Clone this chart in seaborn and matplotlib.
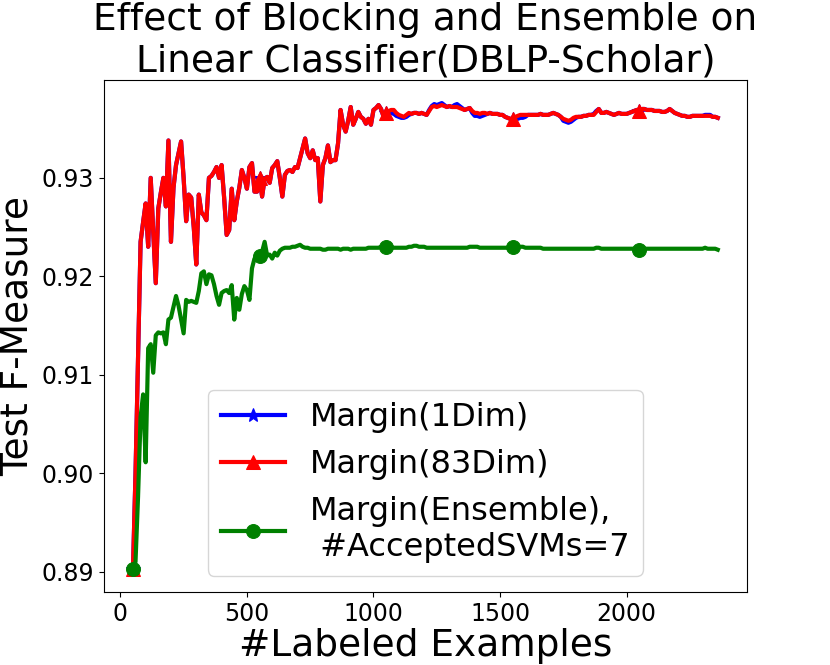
import numpy as np
import matplotlib
matplotlib.use("Agg")
import matplotlib.pyplot as plt
from matplotlib.ticker import FormatStrFormatter
import seaborn as sns

# number of labeled examples, one point every 10 examples
labeledExamples = list(range(50, 2361, 10))

margin83Dim = [
    0.8903, 0.9000, 0.9120, 0.9235, 0.9255, 0.9274, 0.9230, 0.9300, 0.9245, 0.9193,
    0.9269, 0.9285, 0.9300, 0.9271, 0.9338, 0.9235, 0.9290, 0.9313, 0.9325, 0.9337,
    0.9300, 0.9256, 0.9283, 0.9280, 0.9250, 0.9212, 0.9283, 0.9265, 0.9262, 0.9257,
    0.9300, 0.9302, 0.9306, 0.9311, 0.9300, 0.9313, 0.9280, 0.9242, 0.9247, 0.9289,
    0.9257, 0.9276, 0.9290, 0.9308, 0.9300, 0.9289, 0.9311, 0.9315, 0.9286, 0.9286,
    0.9300, 0.9281, 0.9299, 0.9301, 0.9295, 0.9310, 0.9313, 0.9317, 0.9300, 0.9281,
    0.9303, 0.9307, 0.9308, 0.9306, 0.9311, 0.9310, 0.9320, 0.9330, 0.9340, 0.9325,
    0.9320, 0.9328, 0.9318, 0.9320, 0.9276, 0.9313, 0.9320, 0.9333, 0.9316, 0.9318,
    0.9318, 0.9335, 0.9369, 0.9354, 0.9347, 0.9358, 0.9372, 0.9354, 0.9360, 0.9367,
    0.9362, 0.9360, 0.9355, 0.9360, 0.9354, 0.9369, 0.9371, 0.9374, 0.9370, 0.9362,
    0.9366, 0.9368, 0.9369, 0.9369, 0.9366, 0.9364, 0.9363, 0.9362, 0.9364, 0.9366,
    0.9365, 0.9366, 0.9366, 0.9365, 0.9366, 0.9365, 0.9364, 0.9368, 0.9372, 0.9373,
    0.9372, 0.9373, 0.9374, 0.9373, 0.9372, 0.9373, 0.9372, 0.9372, 0.9372, 0.9371,
    0.9370, 0.9369, 0.9370, 0.9371, 0.9368, 0.9366, 0.9366, 0.9365, 0.9366, 0.9366,
    0.9365, 0.9366, 0.9365, 0.9365, 0.9365, 0.9364, 0.9364, 0.9362, 0.9361, 0.9360,
    0.9360, 0.9362, 0.9363, 0.9364, 0.9364, 0.9364, 0.9364, 0.9364, 0.9364, 0.9364,
    0.9364, 0.9365, 0.9364, 0.9364, 0.9364, 0.9365, 0.9366, 0.9365, 0.9364, 0.9362,
    0.9360, 0.9359, 0.9358, 0.9359, 0.9361, 0.9362, 0.9362, 0.9362, 0.9363, 0.9363,
    0.9364, 0.9364, 0.9364, 0.9367, 0.9370, 0.9366, 0.9366, 0.9367, 0.9366, 0.9365,
    0.9364, 0.9365, 0.9366, 0.9365, 0.9365, 0.9365, 0.9366, 0.9367, 0.9368, 0.9369,
    0.9368, 0.9370, 0.9370, 0.9369, 0.9369, 0.9369, 0.9368, 0.9368, 0.9368, 0.9367,
    0.9367, 0.9368, 0.9370, 0.9368, 0.9366, 0.9365, 0.9364, 0.9363, 0.9363, 0.9362,
    0.9362, 0.9363, 0.9363, 0.9363, 0.9363, 0.9363, 0.9363, 0.9363, 0.9363, 0.9362,
    0.9362, 0.9361,
]

margin1Dim = [
    0.8903, 0.9000, 0.9120, 0.9235, 0.9255, 0.9274, 0.9230, 0.9300, 0.9245, 0.9193,
    0.9269, 0.9285, 0.9300, 0.9271, 0.9338, 0.9235, 0.9290, 0.9313, 0.9325, 0.9337,
    0.9300, 0.9256, 0.9283, 0.9280, 0.9250, 0.9212, 0.9283, 0.9265, 0.9262, 0.9257,
    0.9300, 0.9302, 0.9306, 0.9311, 0.9300, 0.9313, 0.9280, 0.9242, 0.9247, 0.9289,
    0.9257, 0.9276, 0.9290, 0.9308, 0.9300, 0.9289, 0.9311, 0.9315, 0.9286, 0.9286,
    0.9300, 0.9281, 0.9299, 0.9301, 0.9295, 0.9310, 0.9313, 0.9317, 0.9300, 0.9281,
    0.9303, 0.9307, 0.9308, 0.9306, 0.9311, 0.9310, 0.9320, 0.9330, 0.9340, 0.9325,
    0.9320, 0.9328, 0.9318, 0.9320, 0.9276, 0.9313, 0.9320, 0.9333, 0.9316, 0.9318,
    0.9318, 0.9335, 0.9369, 0.9354, 0.9347, 0.9358, 0.9372, 0.9354, 0.9360, 0.9367,
    0.9362, 0.9360, 0.9355, 0.9360, 0.9354, 0.9369, 0.9371, 0.9374, 0.9370, 0.9362,
    0.9366, 0.9366, 0.9366, 0.9365, 0.9363, 0.9362, 0.9361, 0.9361, 0.9362, 0.9364,
    0.9365, 0.9366, 0.9366, 0.9365, 0.9366, 0.9365, 0.9364, 0.9369, 0.9373, 0.9375,
    0.9374, 0.9375, 0.9376, 0.9374, 0.9372, 0.9373, 0.9372, 0.9374, 0.9375, 0.9373,
    0.9371, 0.9369, 0.9370, 0.9371, 0.9366, 0.9363, 0.9363, 0.9362, 0.9363, 0.9364,
    0.9365, 0.9366, 0.9365, 0.9365, 0.9365, 0.9364, 0.9364, 0.9362, 0.9361, 0.9360,
    0.9360, 0.9361, 0.9360, 0.9361, 0.9361, 0.9362, 0.9364, 0.9364, 0.9364, 0.9364,
    0.9364, 0.9365, 0.9364, 0.9364, 0.9364, 0.9365, 0.9366, 0.9365, 0.9364, 0.9362,
    0.9358, 0.9357, 0.9356, 0.9357, 0.9359, 0.9361, 0.9362, 0.9362, 0.9363, 0.9363,
    0.9364, 0.9364, 0.9365, 0.9368, 0.9370, 0.9366, 0.9366, 0.9367, 0.9366, 0.9365,
    0.9364, 0.9365, 0.9366, 0.9365, 0.9365, 0.9365, 0.9366, 0.9367, 0.9368, 0.9369,
    0.9368, 0.9370, 0.9370, 0.9369, 0.9369, 0.9369, 0.9368, 0.9368, 0.9368, 0.9367,
    0.9367, 0.9368, 0.9370, 0.9368, 0.9366, 0.9365, 0.9364, 0.9363, 0.9363, 0.9362,
    0.9362, 0.9363, 0.9363, 0.9363, 0.9363, 0.9363, 0.9364, 0.9364, 0.9364, 0.9362,
    0.9362, 0.9361,
]

marginEnsemble = [
    0.8903, 0.8910, 0.8976, 0.9057, 0.9080, 0.9011, 0.9127, 0.9131, 0.9102, 0.9140,
    0.9143, 0.9142, 0.9143, 0.9131, 0.9156, 0.9158, 0.9169, 0.9180, 0.9170, 0.9156,
    0.9142, 0.9176, 0.9174, 0.9175, 0.9174, 0.9173, 0.9185, 0.9203, 0.9205, 0.9192,
    0.9202, 0.9201, 0.9192, 0.9180, 0.9171, 0.9183, 0.9185, 0.9186, 0.9183, 0.9191,
    0.9156, 0.9178, 0.9166, 0.9182, 0.9190, 0.9186, 0.9176, 0.9208, 0.9218, 0.9220,
    0.9221, 0.9225, 0.9235, 0.9221, 0.9222, 0.9218, 0.9224, 0.9221, 0.9226, 0.9228,
    0.9229, 0.9229, 0.9229, 0.9230, 0.9230, 0.9231, 0.9232, 0.9230, 0.9229, 0.9229,
    0.9228, 0.9228, 0.9228, 0.9228, 0.9228, 0.9227, 0.9227, 0.9228, 0.9228, 0.9228,
    0.9228, 0.9228, 0.9227, 0.9228, 0.9228, 0.9228, 0.9227, 0.9228, 0.9228, 0.9228,
    0.9228, 0.9228, 0.9228, 0.9229, 0.9229, 0.9229, 0.9229, 0.9229, 0.9230, 0.9230,
    0.9230, 0.9230, 0.9230, 0.9229, 0.9229, 0.9229, 0.9229, 0.9229, 0.9229, 0.9230,
    0.9230, 0.9231, 0.9231, 0.9230, 0.9230, 0.9230, 0.9229, 0.9229, 0.9229, 0.9229,
    0.9229, 0.9229, 0.9229, 0.9229, 0.9229, 0.9229, 0.9229, 0.9229, 0.9229, 0.9229,
    0.9229, 0.9229, 0.9229, 0.9230, 0.9230, 0.9230, 0.9230, 0.9229, 0.9229, 0.9229,
    0.9229, 0.9229, 0.9229, 0.9229, 0.9229, 0.9229, 0.9229, 0.9229, 0.9229, 0.9230,
    0.9230, 0.9230, 0.9230, 0.9230, 0.9230, 0.9229, 0.9229, 0.9229, 0.9229, 0.9229,
    0.9229, 0.9229, 0.9228, 0.9228, 0.9228, 0.9228, 0.9228, 0.9228, 0.9228, 0.9228,
    0.9228, 0.9228, 0.9228, 0.9228, 0.9228, 0.9228, 0.9228, 0.9228, 0.9228, 0.9228,
    0.9228, 0.9228, 0.9228, 0.9229, 0.9229, 0.9228, 0.9228, 0.9228, 0.9228, 0.9228,
    0.9228, 0.9228, 0.9228, 0.9228, 0.9228, 0.9228, 0.9228, 0.9228, 0.9228, 0.9227,
    0.9227, 0.9228, 0.9228, 0.9228, 0.9228, 0.9228, 0.9228, 0.9228, 0.9228, 0.9228,
    0.9228, 0.9228, 0.9228, 0.9228, 0.9228, 0.9228, 0.9228, 0.9228, 0.9228, 0.9228,
    0.9228, 0.9228, 0.9228, 0.9228, 0.9228, 0.9228, 0.9229, 0.9228, 0.9228, 0.9228,
    0.9228, 0.9227,
]

seriesLabels = ["Margin(1Dim)", "Margin(83Dim)", "Margin(Ensemble),\n #AcceptedSVMs=7"]
yTicks = [0.89, 0.90, 0.91, 0.92, 0.93]
xTicks = [0, 500, 1000, 1500, 2000]

fig, ax = plt.subplots(figsize=(8.3, 6.65), dpi=100)

styles = [("blue", "*"), ("red", "^"), ("green", "o")]
for values, label, (color, marker) in zip([margin1Dim, margin83Dim, marginEnsemble], seriesLabels, styles):
    sns.lineplot(x=labeledExamples, y=values, ax=ax, color=color, marker=marker,
                 markevery=50, markersize=10, linewidth=3, label=label,
                 markeredgecolor=color)

ax.set_xticks(xTicks)
ax.set_yticks(yTicks)
ax.yaxis.set_major_formatter(FormatStrFormatter('%.2f'))
ax.tick_params(labelsize=17)
ax.set_xlabel('#Labeled Examples', fontsize=27, labelpad=2)
ax.set_ylabel('Test F-Measure', fontsize=27)
ax.set_title('Effect of Blocking and Ensemble on\nLinear Classifier(DBLP-Scholar)', fontsize=27)
ax.legend(loc='lower center', fontsize=23)

plt.savefig('out.png', dpi=100)
